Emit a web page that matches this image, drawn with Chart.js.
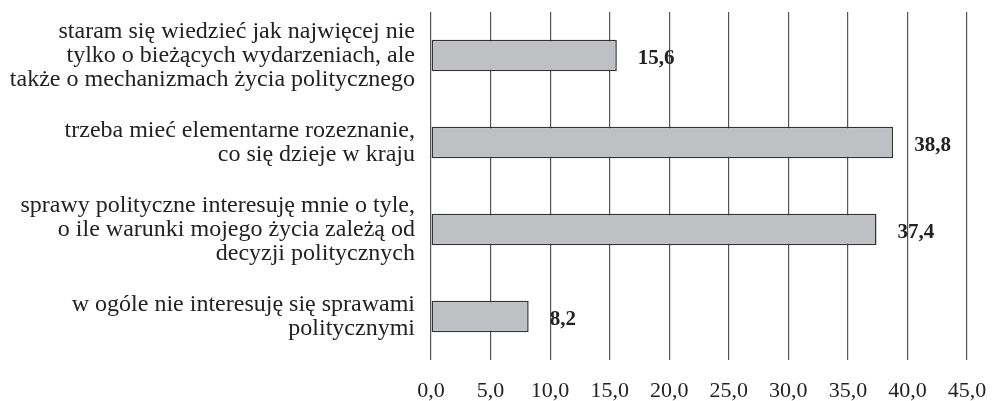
<!DOCTYPE html>
<html>
<head>
<meta charset="utf-8">
<script src="https://cdn.jsdelivr.net/npm/chart.js@4/dist/chart.umd.min.js"></script>
<style>
  html, body { margin: 0; padding: 0; background: #fff; }
  #wrap { width: 994px; height: 401px; }
</style>
</head>
<body>
<div id="wrap"><canvas id="chBars"></canvas></div>
<script>
// answer categories (multi-line, as in the picture)
var categories = [
  ['staram się wiedzieć jak najwięcej nie', 'tylko o bieżących wydarzeniach, ale', 'także o mechanizmach życia politycznego'],
  ['trzeba mieć elementarne rozeznanie,', 'co się dzieje w kraju'],
  ['sprawy polityczne interesuję mnie o tyle,', 'o ile warunki mojego życia zależą od', 'decyzji politycznych'],
  ['w ogóle nie interesuję się sprawami', 'politycznymi']
];
var values = [15.6, 38.8, 37.4, 8.2];
var xTicks = [0, 5, 10, 15, 20, 25, 30, 35, 40, 45];

var serif = '"Liberation Serif", "Times New Roman", serif';

function fmt(v) {
  return v.toFixed(1).replace('.', ',');
}

// bold value next to each bar
var valueLabels = {
  id: 'valueLabels',
  afterDatasetsDraw: function(chart) {
    var ctx = chart.ctx;
    var meta = chart.getDatasetMeta(0);
    ctx.save();
    ctx.font = 'bold 21px ' + serif;
    ctx.fillStyle = '#222';
    ctx.textBaseline = 'middle';
    ctx.textAlign = 'left';
    meta.data.forEach(function(bar, i) {
      ctx.fillText(fmt(values[i]), bar.x + 21, bar.y + 3);
    });
    ctx.restore();
  }
};

new Chart(document.getElementById('chBars'), {
  type: 'bar',
  data: {
    labels: categories,
    datasets: [{
      data: values,
      backgroundColor: '#bfc0c4',
      borderColor: '#333',
      borderWidth: 1.5,
      borderSkipped: false,
      barPercentage: 0.6,
      categoryPercentage: 0.6
    }]
  },
  options: {
    indexAxis: 'y',
    responsive: true,
    maintainAspectRatio: false,
    animation: false,
    layout: { padding: { top: 12, right: 27, bottom: 0, left: 0 } },
    plugins: {
      legend: { display: false },
      tooltip: { enabled: false }
    },
    scales: {
      x: {
        min: 0,
        max: 45,
        afterBuildTicks: function(scale) {
          scale.ticks = xTicks.map(function(v) { return { value: v }; });
        },
        afterFit: function(scale) {
          scale.height = 41;
          scale.paddingLeft = 0;
          scale.paddingRight = 0;
        },
        border: { display: false },
        grid: { color: '#555', lineWidth: 1.2, drawTicks: false },
        ticks: {
          padding: 18,
          color: '#222',
          maxRotation: 0,
          font: { family: serif, size: 22 },
          callback: function(v) { return fmt(v); }
        }
      },
      y: {
        afterFit: function(scale) {
          scale.width = 431;
          scale.paddingTop = 0;
          scale.paddingBottom = 0;
        },
        border: { display: false },
        grid: { display: false },
        ticks: {
          padding: 8,
          color: '#222',
          font: { family: serif, size: 24, lineHeight: 1.0 }
        }
      }
    }
  },
  plugins: [valueLabels]
});
</script>
</body>
</html>
